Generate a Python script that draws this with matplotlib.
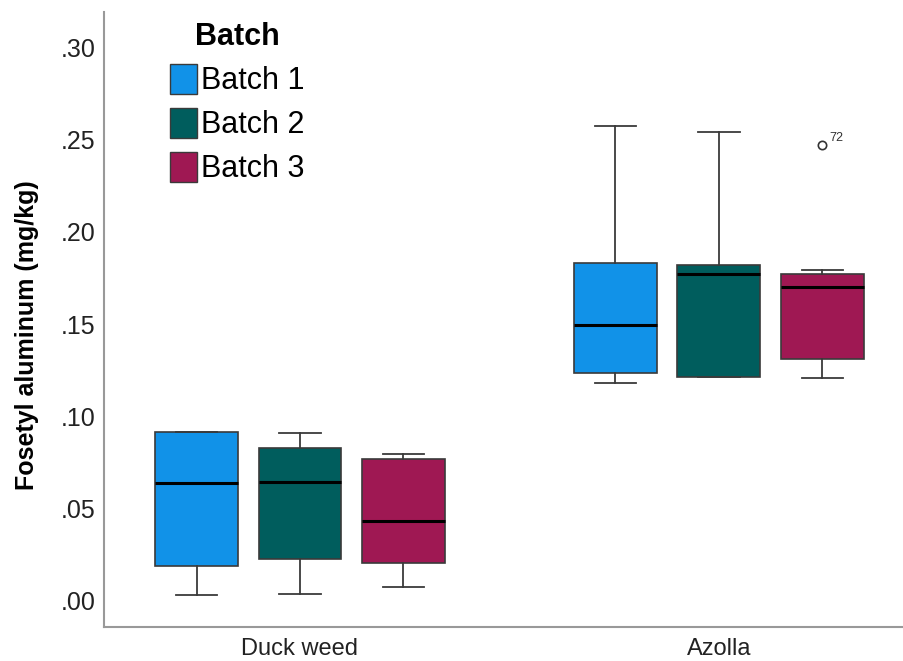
import numpy as np
import matplotlib
matplotlib.use('Agg')
import matplotlib.pyplot as plt
from matplotlib.patches import Patch

plt.rcParams['font.family'] = ['Liberation Sans', 'DejaVu Sans']

# summary stats per plant / batch (values in mg/kg)
plants = ['Duck weed', 'Azolla']
batches = ['Batch 1', 'Batch 2', 'Batch 3']
colors = ['#1192E8', '#005D5D', '#9F1853']

whislo = [[0.0032, 0.0038, 0.0076], [0.1181, 0.1213, 0.1208]]
q1 = [[0.0190, 0.0228, 0.0206], [0.1235, 0.1213, 0.1311]]
med = [[0.0639, 0.0645, 0.0433], [0.1495, 0.1771, 0.1701]]
q3 = [[0.0915, 0.0829, 0.0769], [0.1831, 0.1820, 0.1771]]
whishi = [[0.0915, 0.0910, 0.0796], [0.2573, 0.2540, 0.1793]]
fliers = [[[], [], []], [[], [], [0.247]]]
flier_ids = [[[], [], []], [[], [], ['72']]]

yticks = [0.0, 0.05, 0.10, 0.15, 0.20, 0.25, 0.30]
ytick_labels = ['.00', '.05', '.10', '.15', '.20', '.25', '.30']

offset = 0.247
box_w = 0.198

fig = plt.figure(figsize=(9.04, 6.61), dpi=100)
ax = fig.add_axes([0.115, 0.0514, 0.885, 0.9304])

for g in range(len(plants)):
    for b in range(len(batches)):
        pos = g + (b - 1) * offset
        st = [dict(whislo=whislo[g][b], q1=q1[g][b], med=med[g][b],
                   q3=q3[g][b], whishi=whishi[g][b], fliers=fliers[g][b])]
        ax.bxp(st, positions=[pos], widths=box_w, patch_artist=True,
               showfliers=True,
               boxprops=dict(facecolor=colors[b], edgecolor='#3a3a3a', linewidth=1.2),
               medianprops=dict(color='black', linewidth=2.2),
               whiskerprops=dict(color='#3a3a3a', linewidth=1.3),
               capprops=dict(color='#3a3a3a', linewidth=1.3),
               capwidths=box_w / 2,
               flierprops=dict(marker='o', markersize=6, markerfacecolor='none',
                               markeredgecolor='#333333', markeredgewidth=1.2))
        for v, lab in zip(fliers[g][b], flier_ids[g][b]):
            ax.annotate(lab, (pos, v), xytext=(5, 3), textcoords='offset points',
                        fontsize=9, color='#333333')

ax.set_xlim(-0.468, 1.442)
ax.set_ylim(-0.0141, 0.3191)
ax.set_xticks([0, 1])
ax.set_xticklabels(plants, fontsize=17, color='#222222')
ax.set_yticks(yticks)
ax.set_yticklabels(ytick_labels, fontsize=18, color='#222222')
ax.tick_params(axis='both', length=0)
ax.tick_params(axis='y', pad=6)
ax.tick_params(axis='x', pad=8)
ax.set_ylabel('Fosetyl aluminum (mg/kg)', fontsize=18, fontweight='bold')
ax.yaxis.set_label_coords(-0.081, 0.475)

for s in ['top', 'right']:
    ax.spines[s].set_visible(False)
for s in ['left', 'bottom']:
    ax.spines[s].set_color('#999999')
    ax.spines[s].set_linewidth(1.5)

handles = [Patch(facecolor=c, edgecolor='#3a3a3a', linewidth=1.0) for c in colors]
leg = ax.legend(handles, batches, loc='upper left', bbox_to_anchor=(170 / 904, 1 - 22 / 661),
                bbox_transform=fig.transFigure, frameon=False, fontsize=22,
                title='Batch', title_fontproperties=dict(size=22, weight='bold'),
                handlelength=0.88, handleheight=1.15, handletextpad=0.13,
                labelspacing=0.38, borderpad=0, borderaxespad=0)

fig.savefig('out.png', dpi=100)
